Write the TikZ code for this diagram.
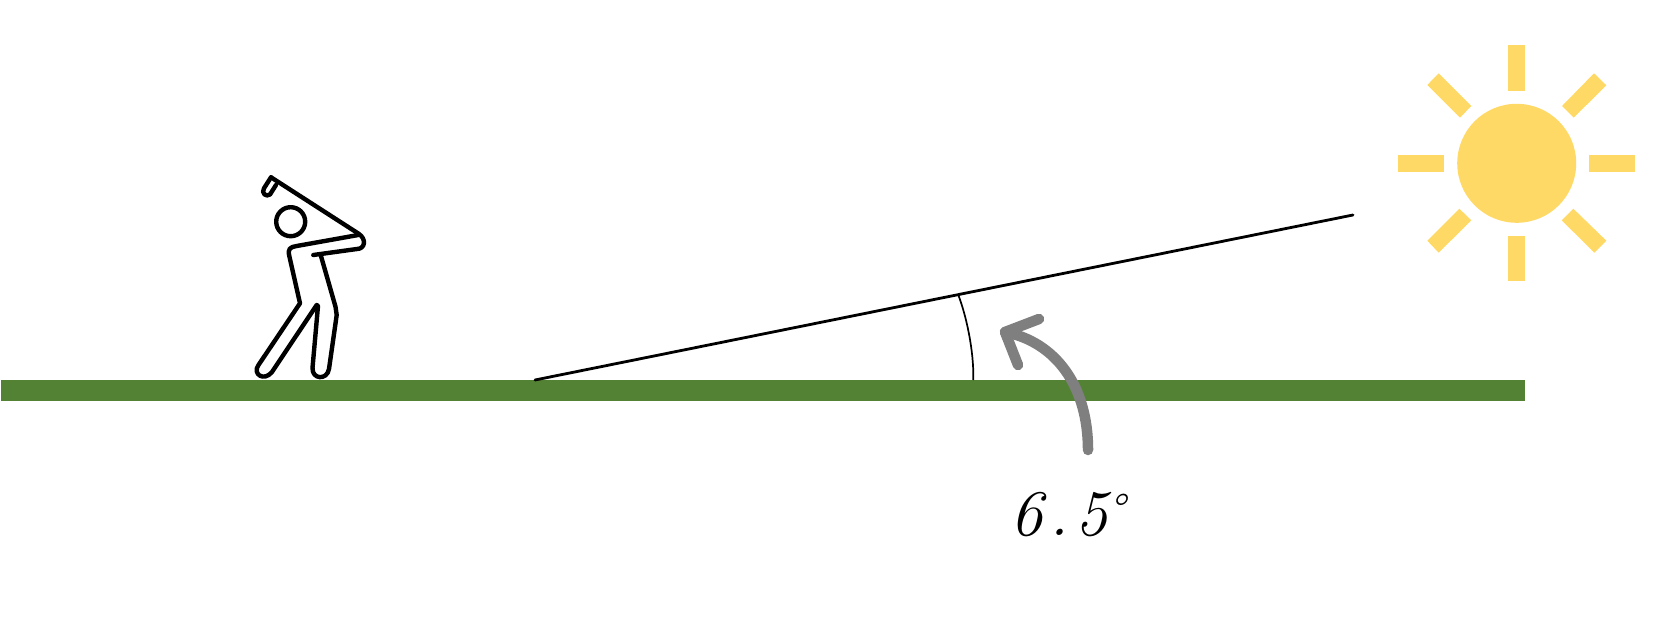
\documentclass[tikz,border=0pt]{standalone}
\usepackage{fontspec}
\usetikzlibrary{calc}
\definecolor{grass}{HTML}{548235}
\definecolor{sunny}{HTML}{FFD966}
\definecolor{arrowgrey}{HTML}{7F7F7F}
\tikzset{
  px/.style={x=1pt,y=-1pt},
  ground/.style={fill=grass,draw=none},
  sunfill/.style={fill=sunny,draw=none},
  golfer/.style={draw=black,line width=4.4pt,line join=round,line cap=round},
  ray/.style={draw=black,line width=2.8pt,line cap=round},
  anglearc/.style={draw=black,line width=1.7pt},
  bigarrow/.style={draw=arrowgrey,line width=10.5pt,line cap=round,line join=round},
  hand/.style={inner sep=0pt,font=\fontsize{65}{65}\selectfont\itshape}
}
\begin{document}
\begin{tikzpicture}[px]
\useasboundingbox (0,0) rectangle (1680,617);
% ground
\fill[ground] (1,380) rectangle (1525,401);
% sun
\fill[sunfill] (1516.7,163.3) circle (59.5);
\fill[sunfill] (1508.3,44.7) rectangle (1525.3,91);
\fill[sunfill] (1508.3,235.7) rectangle (1525.3,280.7);
\fill[sunfill] (1398,154.7) rectangle (1444,171.7);
\fill[sunfill] (1589,154.7) rectangle (1635,171.7);
\fill[sunfill] (1438.7,73.3) -- (1471.3,106) -- (1460,117.7) -- (1427.3,85) -- cycle;
\fill[sunfill] (1594,73.3) -- (1606.3,85.3) -- (1573.7,117.7) -- (1562,106) -- cycle;
\fill[sunfill] (1459.3,208.7) -- (1471.3,220.3) -- (1438.7,252.7) -- (1427.3,240.7) -- cycle;
\fill[sunfill] (1573.3,208.7) -- (1606.3,240.7) -- (1594.3,252.7) -- (1561.7,220.3) -- cycle;
% golfer
\draw[golfer] (290.7,221.7) circle (14.5);
\draw[golfer] (271,177.3) -- (358.3,233.5)
  .. controls (367,239) and (365,249) .. (357,249)
  -- (313.3,255);
\draw[golfer] (271,177.3) -- (264,188.3)
  .. controls (261,193) and (266,197.5) .. (270,194.5)
  -- (276,185);
\draw[golfer] (320.7,255) -- (335.5,306.7)
  -- (336.7,315)
  -- (329,369)
  .. controls (327,380.5) and (312,379.5) .. (312.5,368)
  -- (318,306) -- (316.7,305)
  -- (272,372)
  .. controls (264,382) and (252,374) .. (258.5,365)
  -- (300,303.3) -- (289.3,256)
  .. controls (287.5,249) and (290,247) .. (296.7,246)
  -- (358.3,235);
% sun ray line and angle arc
\coordinate (rayA) at (535,380);
\coordinate (rayB) at (1353,215);
\coordinate (arcA) at (958.3,295);
\coordinate (arcB) at (973.3,380);
\draw[ray] (rayA) -- (rayB);
\draw[anglearc] (arcA) .. controls (966,315) and (974,350) .. (arcB);
% grey arrow
\coordinate (arrowStart) at (1088,450);
\coordinate (arrowTip) at (1005,332);
\coordinate (barbA) at (1039,319);
\coordinate (barbB) at (1018,365);
\draw[bigarrow] (arrowStart) .. controls (1088,385) and (1055,342) .. (arrowTip);
\draw[bigarrow] (barbA) -- (arrowTip) -- (barbB);
% label
\node[hand,anchor=base west] (label) at (1010,535) {6\hspace{7pt}.\hspace{6pt}5\textsuperscript{\fontsize{46}{46}\selectfont\char"00B0}};
\end{tikzpicture}
\end{document}
